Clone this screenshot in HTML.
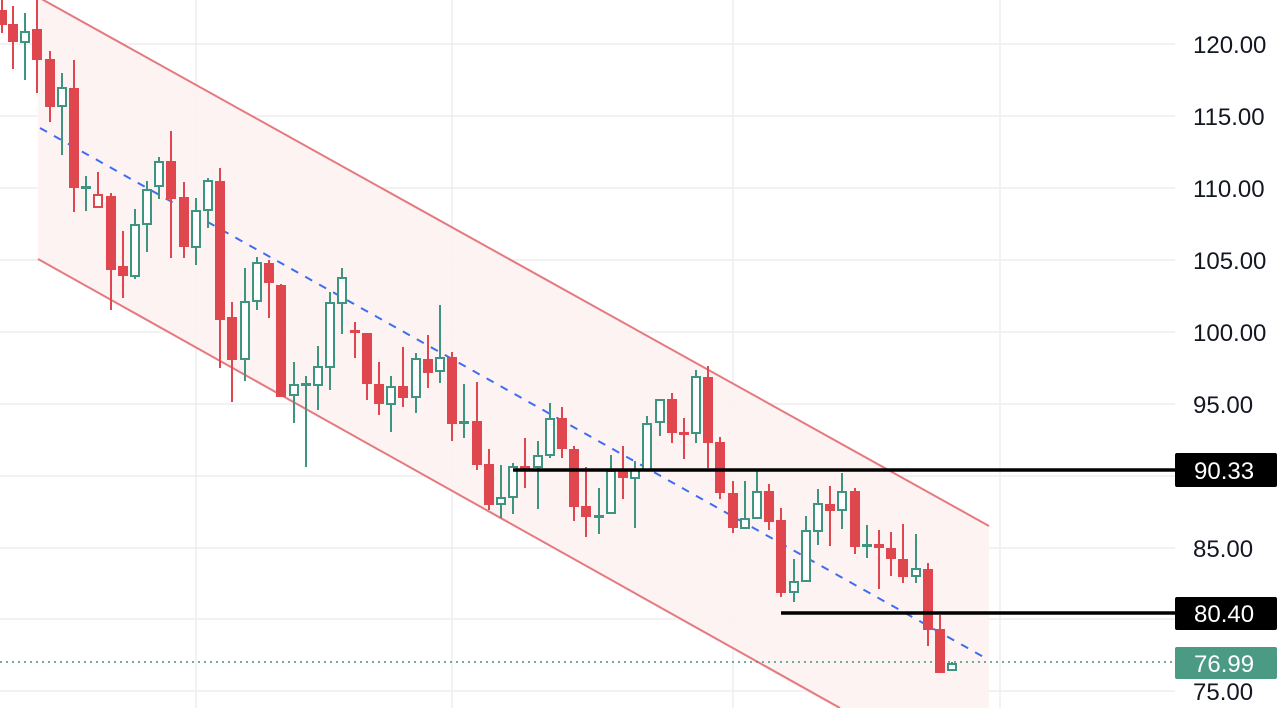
<!DOCTYPE html>
<html><head><meta charset="utf-8"><style>
html,body{margin:0;padding:0;background:#fff;width:1286px;height:708px;overflow:hidden;}
svg{display:block;font-family:"Liberation Sans",sans-serif;}
</style></head><body>
<svg id="s" width="1286" height="708" viewBox="0 0 1286 708" xmlns="http://www.w3.org/2000/svg">
<g stroke="#eeeeee" stroke-width="1.5">
<line x1="0" y1="44" x2="1175" y2="44"/><line x1="0" y1="116" x2="1175" y2="116"/><line x1="0" y1="188" x2="1175" y2="188"/><line x1="0" y1="260" x2="1175" y2="260"/><line x1="0" y1="332" x2="1175" y2="332"/><line x1="0" y1="404" x2="1175" y2="404"/><line x1="0" y1="476" x2="1175" y2="476"/><line x1="0" y1="548" x2="1175" y2="548"/><line x1="0" y1="619" x2="1175" y2="619"/><line x1="0" y1="691" x2="1175" y2="691"/>
<line x1="196" y1="0" x2="196" y2="708"/><line x1="452" y1="0" x2="452" y2="708"/><line x1="733" y1="0" x2="733" y2="708"/><line x1="1000" y1="0" x2="1000" y2="708"/>
</g>
<polygon points="38,-3 989,526 989,794 38,259" fill="#fdf1f1" opacity="0.85"/>
<line x1="38" y1="-3" x2="989" y2="526" stroke="#e57a7e" stroke-width="2"/>
<line x1="38" y1="259" x2="840" y2="708" stroke="#e57a7e" stroke-width="2"/>
<line x1="40" y1="128" x2="989" y2="660" stroke="#3e6df0" stroke-width="2" stroke-dasharray="8,8"/>
<line x1="0" y1="662" x2="1175" y2="662" stroke="#3d9480" stroke-width="1.5" stroke-dasharray="2,4"/>
<g id="c"></g>
<line x1="513" y1="470" x2="1175" y2="470" stroke="#000" stroke-width="3.5"/>
<line x1="781" y1="613" x2="1175" y2="613" stroke="#000" stroke-width="3.5"/>
<g font-size="24" fill="#131722">
<text x="1193" y="53">120.00</text><text x="1193" y="125">115.00</text><text x="1193" y="197">110.00</text><text x="1193" y="269">105.00</text><text x="1193" y="341">100.00</text><text x="1193" y="413">95.00</text><text x="1193" y="557">85.00</text><text x="1193" y="700">75.00</text>
</g>
<rect x="1175" y="453" width="102" height="34" rx="2" fill="#000"/>
<text x="1194" y="479" font-size="24" fill="#fff">90.33</text>
<rect x="1175" y="597" width="102" height="33" rx="2" fill="#000"/>
<text x="1194" y="622" font-size="24" fill="#fff">80.40</text>
<rect x="1175" y="647" width="102" height="32" rx="2" fill="#4a9a84"/>
<text x="1194" y="672" font-size="24" fill="#fff">76.99</text>
</svg>
<script>
var R="#e0464e",G="#3d9480";
var d=[
[2,10,25,0,33,R],[13,24,42,6,69,R],[25,32,42,13,80,G,1],[37,29,60,0,93,R],[50,59,107,51,122,R],[62,88,106,73,155,G,1],[74,88,188,60,212,R],[86,186,188,176,211,G],[98,195,207,172,207,R,1],[111,196,270,193,310,R],[123,266,276,231,298,R],[135,225,276,209,279,G,1],[147,190,224,181,252,G,1],[159,162,186,157,199,G,1],[171,161,199,131,258,R],[184,197,247,182,258,R],[196,211,247,198,265,G,1],[208,181,210,178,228,G,1],[220,181,320,168,368,R],[232,317,360,302,402,R],[245,302,359,268,381,G,1],
[257,263,301,257,310,G,1],[269,263,283,260,318,R],[281,285,397,284,397,R],[294,385,395,362,423,G,1],[306,383,385,376,467,G],[318,367,385,346,410,G,1],[330,303,367,292,390,G,1],[342,278,303,268,334,G,1],[355,330,333,322,358,R],[367,333,384,333,400,R],[379,384,404,362,415,R],[391,387,404,376,432,G,1],[403,386,398,347,407,R],[416,359,397,353,413,G,1],[428,359,373,335,388,R],[440,358,371,305,383,G,1],[452,357,424,352,441,R],[464,421,423,384,438,G],[477,421,465,382,470,R],[489,464,505,449,510,R],[501,498,504,465,518,G,1],[513,467,497,463,514,G,1],[525,466,469,438,488,R],[538,456,467,441,509,G,1],[550,419,455,403,458,G,1],[562,418,449,407,458,R],[574,449,507,446,521,R],[586,506,517,467,537,R],[599,515,517,488,534,G],[611,471,513,455,513,G,1],[623,471,478,446,499,R],[635,470,478,461,528,G,1],[647,424,470,416,470,G,1],[660,400,422,400,436,G,1],[672,399,433,393,443,R],[684,432,434,418,459,R],[696,377,433,370,443,G,1],[708,377,443,366,468,R],[720,442,493,437,499,R],[733,493,528,481,533,R],[745,519,528,481,528,G,1],[757,492,518,470,518,G,1],[769,491,522,484,530,R],[781,520,593,508,597,R],[794,582,592,559,602,G,1],[806,531,581,516,581,G,1],[818,504,531,489,545,G,1],[830,504,511,486,546,R],[842,492,510,473,529,G,1],[855,491,547,488,554,R],[867,544,546,525,558,G],[879,544,548,530,589,R],[891,548,559,532,576,R],[903,559,577,524,583,R],[916,569,576,534,583,G,1],[928,569,630,563,646,R],[940,629,673,615,673,R],[952,664,670,662,670,G,1]];
var s="";
d.forEach(function(c){var x=c[0],t=c[1],b=c[2],h=c[3],l=c[4],col=c[5],ho=c[6];
s+='<line x1="'+x+'" y1="'+h+'" x2="'+x+'" y2="'+l+'" stroke="'+col+'" stroke-width="2"/>';
if(b-t<3){s+='<rect x="'+(x-5)+'" y="'+(t)+'" width="10" height="'+Math.max(3,b-t)+'" fill="'+col+'"/>';}
else if(ho){s+='<rect x="'+(x-4)+'" y="'+t+'" width="8" height="'+(b-t)+'" fill="#fff" stroke="'+col+'" stroke-width="2"/>';}
else{s+='<rect x="'+(x-5)+'" y="'+t+'" width="10" height="'+(b-t)+'" fill="'+col+'"/>';}
});
document.getElementById("c").innerHTML=s;
</script>
</body></html>
